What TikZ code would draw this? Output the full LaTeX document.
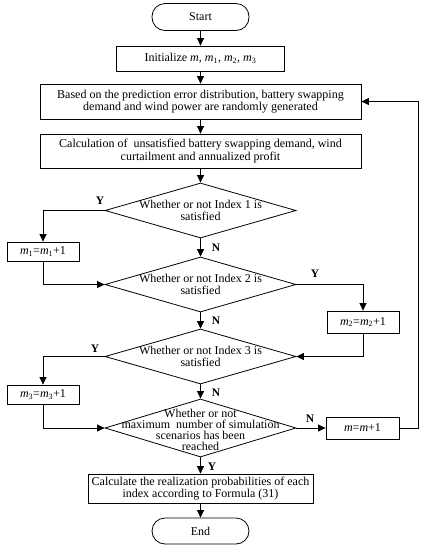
\documentclass[tikz,border=0pt]{standalone}
\usepackage{fontspec}
\setmainfont{Liberation Serif}
\usetikzlibrary{shapes.geometric,arrows.meta}
\begin{document}
\begin{tikzpicture}[x=1pt,y=-1pt,
  every node/.style={font=\fontsize{12}{12.5}\selectfont},
  base/.style={draw,line width=0.8pt,inner sep=0pt,align=center},
  term/.style={base,rounded corners=13pt,minimum width=97pt,minimum height=27pt},
  box/.style={base},
  dia/.style={draw,line width=0.8pt,shape=diamond,inner sep=0pt,minimum width=191pt,minimum height=55pt},
  arr/.style={line width=0.8pt,-{Triangle[length=7.5pt,width=7pt]}},
  yn/.style={font=\fontsize{11.5}{12}\selectfont\bfseries}]
\useasboundingbox (0,0) rectangle (425,550);
\node[term] (start) at (200.5,17) {Start};
\node[box,minimum width=168pt,minimum height=25pt] (init) at (200.5,58.5) {Initialize \textit{m}, \textit{m}\textsubscript{1}, \textit{m}\textsubscript{2}, \textit{m}\textsubscript{3}};
\node[box,minimum width=321pt,minimum height=35pt] (gen) at (200.5,101.5) {Based on the prediction error distribution, battery swapping\\demand and wind power are randomly generated};
\node[box,minimum width=321pt,minimum height=34pt] (calc) at (200.5,151) {Calculation of \ unsatisfied battery swapping demand, wind\\curtailment and annualized profit};
\node[dia] (d1) at (200.5,210.5) {};
\node[align=center] (t1) at (200.5,210.5) {Whether or not Index 1 is\\satisfied};
\node[box,minimum width=72pt,minimum height=19pt] (m1) at (43,251.5) {\textit{m}\textsubscript{1}=\textit{m}\textsubscript{1}+1};
\node[dia] (d2) at (200.5,284.5) {};
\node[align=center] (t2) at (200.5,284.5) {Whether or not Index 2 is\\satisfied};
\node[box,minimum width=72pt,minimum height=22pt] (m2) at (363,322) {\textit{m}\textsubscript{2}=\textit{m}\textsubscript{2}+1};
\node[dia] (d3) at (200.5,356.5) {};
\node[align=center] (t3) at (200.5,356.5) {Whether or not Index 3 is\\satisfied};
\node[box,minimum width=72pt,minimum height=19pt] (m3) at (43,394.5) {\textit{m}\textsubscript{3}=\textit{m}\textsubscript{3}+1};
\node[dia,minimum height=58pt] (d4) at (200.5,428) {};
\node[align=center,font=\fontsize{12}{11.2}\selectfont] (t4) at (200.5,430) {Whether or not\\maximum \ number of simulation\\scenarios has been\\reached};
\node[box,minimum width=73pt,minimum height=22pt] (mm) at (362.5,428) {\textit{m}=\textit{m}+1};
\node[box,minimum width=225pt,minimum height=29pt] (prob) at (200.5,488.5) {Calculate the realization probabilities of each\\index according to Formula (31)};
\node[term,minimum height=26pt] (end) at (200.5,531) {End};
\coordinate (loop) at (418,428);
\draw[arr] (start) -- (init);
\draw[arr] (init) -- (gen);
\draw[arr] (gen) -- (calc);
\draw[arr] (calc) -- (d1.north);
\draw[arr] (d1.west) -| (m1.north);
\draw[arr] (d1.south) -- (d2.north);
\draw[arr] (m1.south) |- (d2.west);
\draw[arr] (d2.east) -| (m2.north);
\draw[arr] (d2.south) -- (d3.north);
\draw[arr] (m2.south) |- (d3.east);
\draw[arr] (d3.west) -| (m3.north);
\draw[arr] (d3.south) -- (d4.north);
\draw[arr] (m3.south) |- (d4.west);
\draw[arr] (d4.east) -- (mm.west);
\draw[arr] (mm.east) -- (loop) |- (gen.east);
\draw[arr] (d4.south) -- (prob.north);
\draw[arr] (prob) -- (end);
\node[yn] (y1) at (100,201) {Y};
\node[yn] (n1) at (216,248) {N};
\node[yn] (y2) at (315,274) {Y};
\node[yn] (n2) at (216,320.5) {N};
\node[yn] (y3) at (95,349) {Y};
\node[yn] (n3) at (216,393) {N};
\node[yn] (n4) at (310,419) {N};
\node[yn] (y4) at (212,467) {Y};
\end{tikzpicture}
\end{document}
